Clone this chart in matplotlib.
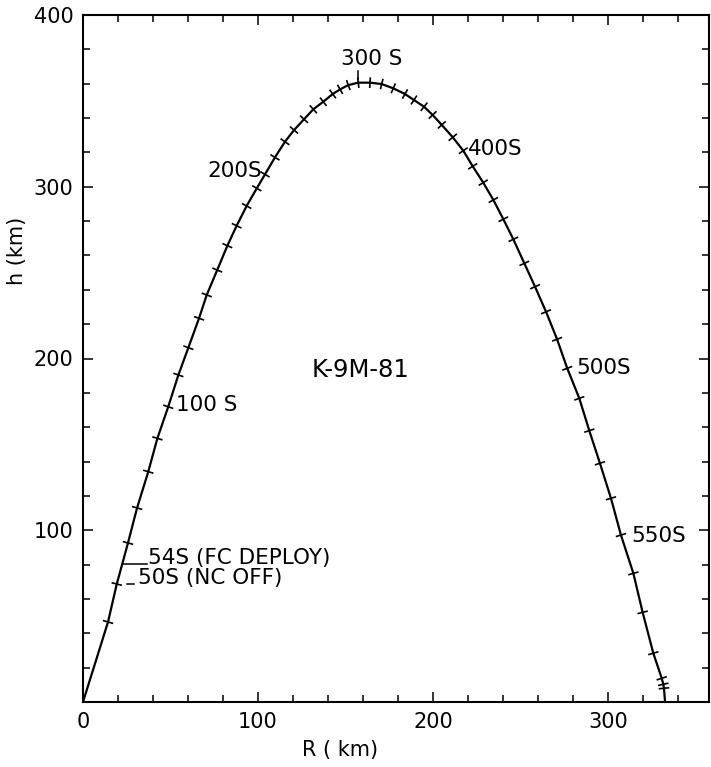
import numpy as np
import matplotlib
matplotlib.use("Agg")
import matplotlib.pyplot as plt
from matplotlib.ticker import MultipleLocator, FixedLocator

plt.rcParams['font.family'] = ['DejaVu Sans']

# ---- data (10 s time marks) ----
tick_time = [40, 50, 60, 70, 80, 90, 100, 110, 120, 130, 140, 150, 160, 170, 180,
             190, 200, 210, 220, 230, 240, 250, 260, 270, 280, 290, 300, 310, 320,
             330, 340, 350, 360, 370, 380, 390, 400, 410, 420, 430, 440, 450, 460,
             470, 480, 490, 500, 510, 520, 530, 540, 550, 560, 570, 580, 590, 600, 610]
tick_R = [14.3, 19.3, 25.7, 30.9, 37.3, 42.5, 48.7, 54.5, 60.2, 66.3, 70.7, 76.7,
          82.5, 87.8, 93.5, 99.3, 104.0, 109.7, 115.4, 120.6, 126.3, 131.6, 137.3,
          142.7, 146.9, 151.6, 157.3, 164.0, 170.7, 177.3, 184.0, 189.1, 194.9,
          199.8, 205.0, 211.3, 217.3, 222.7, 228.7, 234.5, 240.2, 245.9, 252.2,
          258.3, 264.6, 270.9, 276.7, 283.6, 289.3, 295.4, 301.7, 307.4, 314.5,
          319.8, 325.9, 330.7, 331.6, 332.0]
tick_h = [46.6, 68.7, 92.6, 113.0, 134.1, 153.5, 171.9, 190.4, 206.3, 223.4, 237.0,
          251.5, 265.7, 277.3, 288.8, 299.1, 307.2, 317.1, 326.2, 333.0, 339.3,
          345.1, 349.5, 354.0, 356.7, 359.2, 360.6, 360.6, 359.8, 357.3, 354.0,
          350.5, 346.6, 341.8, 336.0, 328.8, 321.0, 311.9, 302.4, 292.3, 281.1,
          269.4, 255.4, 241.8, 227.2, 211.2, 194.3, 176.8, 158.0, 139.0, 118.6,
          97.2, 74.9, 52.2, 28.4, 13.8, 10.3, 8.0]
launch_R, launch_h = 0.0, 0.0
impact_R, impact_h = 332.6, 0.0

x_major = [0, 100, 200, 300]
y_major = [100, 200, 300, 400]

title_text = "K-9M-81"

# ---- figure ----
W, H = 711, 767
fig = plt.figure(figsize=(W / 100, H / 100), dpi=100)
ax = fig.add_axes([83 / W, 65 / H, 626.5 / W, 687 / H])
ax.set_xlim(0, 358)
ax.set_ylim(0, 400)

R = np.array([launch_R] + tick_R + [impact_R])
h = np.array([launch_h] + tick_h + [impact_h])
ax.plot(R, h, color='black', lw=1.6, solid_capstyle='round', zorder=3)

# spines and ticks
for s in ax.spines.values():
    s.set_linewidth(1.5)
ax.xaxis.set_major_locator(FixedLocator(x_major))
ax.yaxis.set_major_locator(FixedLocator(y_major))
ax.xaxis.set_minor_locator(MultipleLocator(20))
ax.yaxis.set_minor_locator(MultipleLocator(20))
ax.tick_params(which='both', direction='in', top=True, right=True, width=1.1)
ax.tick_params(which='major', length=7.5, labelsize=15, pad=7)
ax.tick_params(which='minor', length=4.7)
ax.set_xticklabels([str(v) for v in x_major])
ax.set_yticklabels([str(v) for v in y_major])

fig.canvas.draw()
T = ax.transData
Ti = T.inverted()
P = T.transform(np.c_[R, h])


def seg(p0, p1, **kw):
    d = Ti.transform(np.array([p0, p1]))
    ax.plot(d[:, 0], d[:, 1], color='black', clip_on=False, **kw)


# perpendicular time marks
for i in range(1, len(R) - 1):
    d = P[i + 1] - P[i - 1]
    d = d / np.hypot(*d)
    nrm = np.array([-d[1], d[0]])
    seg(P[i] - 4.5 * nrm, P[i] + 4.5 * nrm, lw=1.2, zorder=4)

fs = 15.5


def ann(t, text, dx, dy, ha='left'):
    x = np.interp(t, tick_time, tick_R)
    y = np.interp(t, tick_time, tick_h)
    ax.annotate(text, xy=(x, y), xytext=(dx, dy), textcoords='offset pixels',
                ha=ha, va='center', fontsize=fs)
    return T.transform((x, y))


p = ann(50, "50S (NC OFF)", 21, 6)
seg(p + [10, 0], p + [17, 0], lw=1.1)
p = ann(54, "54S (FC DEPLOY)", 27, 10)
seg(p + [2, 4], p + [26, 4], lw=1.1)
ann(100, "100 S", 8, 2)
ann(200, "200S", -3, 3, ha='right')
p = ann(300, "300 S", 13, 24, ha='center')
seg(p + [0, 4], p + [0, 12], lw=1.1)
ann(400, "400S", 5, 2)
ann(500, "500S", 9, 0)
ann(550, "550S", 10, -1)

ax.text((312 - 83) / 626.5, (702 - 370) / 687, title_text, transform=ax.transAxes,
        fontsize=17.5, ha='left', va='center')

fig.text(340 / W, 1 - 750 / H, "R ( km)", fontsize=15, ha='center', va='center')
fig.text(17 / W, 1 - 251 / H, "h (km)", fontsize=15, ha='center', va='center',
         rotation=90)

fig.savefig("out.png", dpi=100)
